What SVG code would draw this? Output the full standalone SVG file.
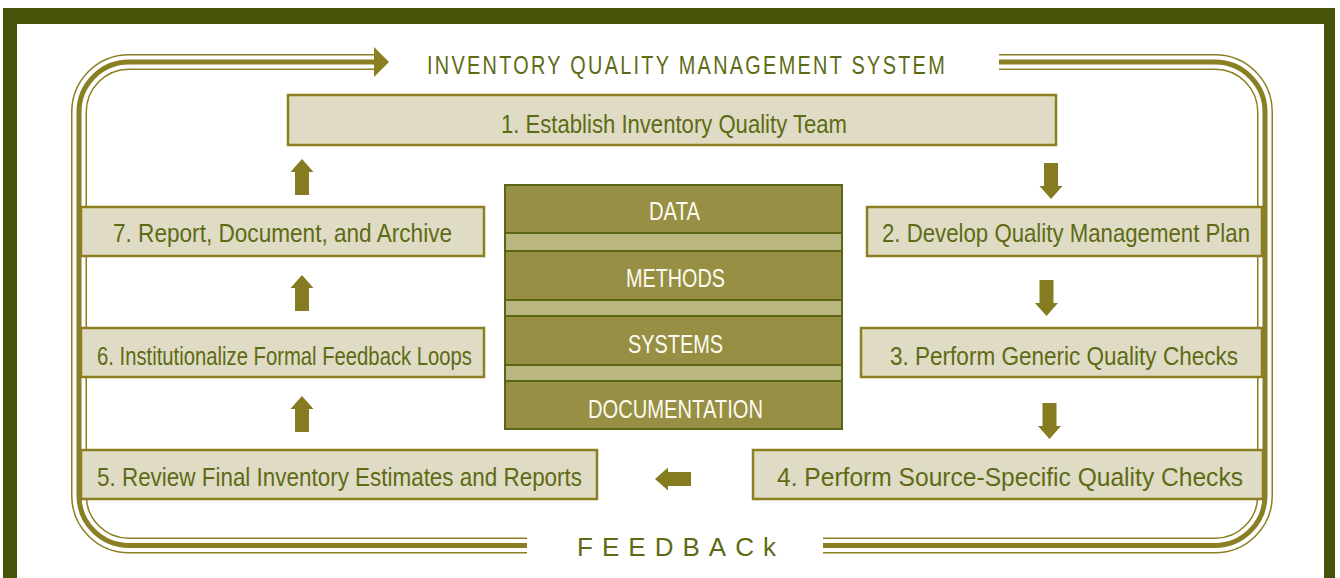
<svg xmlns="http://www.w3.org/2000/svg" xmlns:xlink="http://www.w3.org/1999/xlink" width="1340" height="578" viewBox="0 0 1340 578">
<defs>
<style>
.box{fill:#e0dbc4;stroke:#8b7f22;stroke-width:2.5}
.t{font-family:"Liberation Sans",Arial,sans-serif;font-size:26px;fill:#5d6b15}
.bt{font-family:"Liberation Sans",Arial,sans-serif;font-size:25px;fill:#fbfbf0;text-anchor:start}
.band{fill:#978f43;stroke:#5b6614;stroke-width:2}
.lband{fill:#b9b67f;stroke:#5b6614;stroke-width:2}
.l1{fill:none;stroke:#8a7f22;stroke-width:16}
.l2{fill:none;stroke:#ffffff;stroke-width:13}
.l3{fill:none;stroke:#8a7f22;stroke-width:5}
.arr{fill:#857b20}
</style>
<path id="ua" d="M0,0 L11.5,13 L7,13 L7,36 L-7,36 L-7,13 L-11.5,13 Z"/>
<path id="loopL" d="M527,545.5 H129 A50,50 0 0 1 79,495.5 V112 A50,50 0 0 1 129,62 H374"/>
<path id="loopR" d="M999,62 H1215 A50,50 0 0 1 1265,112 V495.5 A50,50 0 0 1 1215,545.5 H823"/>
</defs>
<rect x="3" y="8" width="1332" height="600" fill="#465409"/>
<rect x="17" y="24" width="1307" height="570" fill="#ffffff"/>

<g id="connectors">
<g id="feedback-loop">
<use xlink:href="#loopL" class="l1"/>
<use xlink:href="#loopL" class="l2"/>
<use xlink:href="#loopL" class="l3"/>
<use xlink:href="#loopR" class="l1"/>
<use xlink:href="#loopR" class="l2"/>
<use xlink:href="#loopR" class="l3"/>
<polygon points="374,47 389,62 374,77" fill="#8a7f22"/>
</g>
<g class="arr">
<use xlink:href="#ua" transform="translate(302,159)"/>
<use xlink:href="#ua" transform="translate(302,275)"/>
<use xlink:href="#ua" transform="translate(302,396)"/>
<use xlink:href="#ua" transform="translate(1051,199) rotate(180)"/>
<use xlink:href="#ua" transform="translate(1046.5,316) rotate(180)"/>
<use xlink:href="#ua" transform="translate(1049.5,439) rotate(180)"/>
<use xlink:href="#ua" transform="translate(655,479) rotate(-90)"/>
</g>
</g>

<g id="title">
<text class="t" x="427" y="73.5" textLength="520" lengthAdjust="spacingAndGlyphs" font-size="25" letter-spacing="3">INVENTORY QUALITY MANAGEMENT SYSTEM</text>
</g>
<g id="feedback-label">
<text class="t" x="577" y="556" textLength="199" lengthAdjust="spacing">FEEDBACk</text>
</g>

<g id="step1">
<rect class="box" x="288" y="95" width="768" height="50"/>
<text class="t" x="501" y="133" textLength="346" lengthAdjust="spacingAndGlyphs">1. Establish Inventory Quality Team</text>
</g>
<g id="step2">
<rect class="box" x="867" y="207" width="395" height="49"/>
<text class="t" x="882" y="242" textLength="368" lengthAdjust="spacingAndGlyphs">2. Develop Quality Management Plan</text>
</g>
<g id="step3">
<rect class="box" x="861" y="328" width="401" height="49"/>
<text class="t" x="890" y="364.5" textLength="348" lengthAdjust="spacingAndGlyphs">3. Perform Generic Quality Checks</text>
</g>
<g id="step4">
<rect class="box" x="753" y="450" width="510" height="49"/>
<text class="t" x="777" y="486" textLength="466" lengthAdjust="spacingAndGlyphs">4. Perform Source-Specific Quality Checks</text>
</g>
<g id="step5">
<rect class="box" x="81" y="450" width="516" height="49"/>
<text class="t" x="97" y="486" textLength="485" lengthAdjust="spacingAndGlyphs">5. Review Final Inventory Estimates and Reports</text>
</g>
<g id="step6">
<rect class="box" x="81" y="328" width="403" height="49"/>
<text class="t" x="97" y="365" textLength="375" lengthAdjust="spacingAndGlyphs">6. Institutionalize Formal Feedback Loops</text>
</g>
<g id="step7">
<rect class="box" x="81" y="207" width="403" height="49"/>
<text class="t" x="113" y="242" textLength="339" lengthAdjust="spacingAndGlyphs">7. Report, Document, and Archive</text>
</g>

<g id="core-block">
<rect class="band" x="505" y="185" width="337" height="244"/>
<rect class="lband" x="505" y="233" width="337" height="18"/>
<rect class="lband" x="505" y="300" width="337" height="16"/>
<rect class="lband" x="505" y="365" width="337" height="16"/>
<text class="bt" x="649" y="220" textLength="51" lengthAdjust="spacingAndGlyphs">DATA</text>
<text class="bt" x="626" y="287" textLength="99" lengthAdjust="spacingAndGlyphs">METHODS</text>
<text class="bt" x="628" y="353" textLength="95" lengthAdjust="spacingAndGlyphs">SYSTEMS</text>
<text class="bt" x="588" y="417.5" textLength="175" lengthAdjust="spacingAndGlyphs">DOCUMENTATION</text>
</g>
</svg>
